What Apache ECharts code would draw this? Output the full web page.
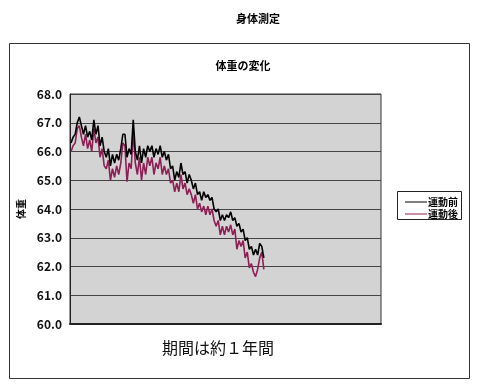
<!DOCTYPE html>
<html>
<head>
<meta charset="utf-8">
<script src="https://cdn.jsdelivr.net/npm/echarts@6/dist/echarts.min.js"></script>
<style>html,body{margin:0;padding:0;background:#fff;}#c{width:477px;height:386px;}</style>
</head>
<body>
<div id="c"></div>
<script>
var yTicks = [60, 61, 62, 63, 64, 65, 66, 67, 68];
var totalSlots = 150;
var before = [66.3,66.5,66.6,67.0,67.2,66.9,66.6,66.9,66.5,66.7,66.4,67.1,66.6,66.9,66.2,66.5,66.0,65.8,66.1,65.5,65.9,65.6,65.9,65.7,66.1,66.6,66.6,65.8,66.1,65.9,67.1,66.0,65.7,66.2,65.6,66.1,65.8,66.2,66.0,66.2,65.8,66.1,65.9,66.2,65.8,66.0,65.7,65.9,65.4,65.5,65.0,65.3,65.1,65.6,65.2,65.3,64.9,65.2,65.0,64.7,64.9,64.5,64.6,64.3,64.6,64.4,64.5,64.3,64.4,64.0,63.9,64.0,63.6,63.8,63.6,63.8,63.7,63.9,63.6,63.7,63.4,63.5,63.2,63.3,62.9,63.0,62.6,62.7,62.4,62.6,62.4,62.8,62.7,62.3];
var after = [66.0,66.2,66.3,66.8,66.9,66.5,66.2,66.6,66.1,66.4,66.0,66.8,66.3,66.5,65.8,66.1,65.5,65.4,65.7,65.0,65.4,65.1,65.5,65.2,65.6,66.3,66.2,64.95,65.6,65.4,66.7,65.6,65.2,65.8,65.0,65.6,65.2,65.8,65.5,65.8,65.2,65.6,65.4,65.8,65.2,65.5,65.2,65.4,64.9,65.0,64.6,64.9,64.6,65.2,64.7,64.9,64.5,64.7,64.5,64.2,64.5,64.0,64.2,63.9,64.1,63.8,64.1,63.8,64.0,63.6,63.4,63.6,63.1,63.4,63.1,63.4,63.2,63.45,63.1,63.3,62.6,62.9,62.7,62.9,62.3,62.5,61.95,62.1,61.8,61.65,61.9,62.3,62.5,61.9];
var seriesNames = ['運動前', '運動後'];

var cats = [];
for (var i = 0; i < totalSlots; i++) cats.push(String(i + 1));

var chart = echarts.init(document.getElementById('c'));
var jp = '"Noto Sans CJK JP", sans-serif';
chart.setOption({
  animation: false,
  backgroundColor: '#ffffff',
  title: [
    {text: '身体測定', left: 253, top: 8, textAlign: 'center',
     textStyle: {fontFamily: jp, fontSize: 11, fontWeight: 'bold', color: '#000'}},
    {text: '体重の変化', left: 238, top: 55, textAlign: 'center',
     textStyle: {fontFamily: jp, fontSize: 11, fontWeight: 'bold', color: '#000'}},
    {text: '期間は約１年間', left: 213, top: 335, textAlign: 'center',
     textStyle: {fontFamily: jp, fontSize: 16, fontWeight: 'normal', color: '#111'}}
  ],
  graphic: [
    {type: 'rect', shape: {x: 9.5, y: 43.5, width: 460, height: 335},
     style: {fill: 'none', stroke: '#333', lineWidth: 1}, z: -1},
    {type: 'rect', shape: {x: 397.5, y: 191.5, width: 64, height: 28},
     style: {fill: '#fff', stroke: '#222', lineWidth: 1}, z: 1}
  ],
  legend: {
    orient: 'vertical', left: 400, top: 192, itemGap: 2,
    itemWidth: 22, itemHeight: 10, icon: 'path://M0,4.5L22,4.5L22,5.5L0,5.5Z',
    textStyle: {fontFamily: jp, fontSize: 10, fontWeight: 'bold', color: '#000', padding: [0,0,0,-4]},
    data: seriesNames, z: 5
  },
  grid: {left: 70, right: 96, top: 94, bottom: 62, show: true,
         backgroundColor: '#d3d3d3', borderColor: '#333', borderWidth: 1},
  xAxis: {
    type: 'category', data: cats, boundaryGap: true,
    axisLine: {lineStyle: {color: '#222', width: 2}},
    axisTick: {show: false}, axisLabel: {show: false}, splitLine: {show: false}
  },
  yAxis: {
    type: 'value', min: yTicks[0], max: yTicks[yTicks.length - 1], interval: 1,
    name: '体重', nameLocation: 'middle', nameRotate: 90, nameGap: 40,
    nameTextStyle: {fontFamily: jp, fontSize: 10, fontWeight: 'bold', color: '#000'},
    axisLine: {show: true, lineStyle: {color: '#222', width: 1}},
    axisTick: {show: false},
    axisLabel: {fontFamily: jp, fontSize: 12, fontWeight: 'bold', color: '#111', margin: 8,
                formatter: function (v) { return v.toFixed(1); }},
    splitLine: {lineStyle: {color: '#444', width: 1}}
  },
  series: [
    {name: seriesNames[0], type: 'line', data: before, symbol: 'none',
     lineStyle: {color: '#000000', width: 1.6}, itemStyle: {color: '#000000'}, z: 3},
    {name: seriesNames[1], type: 'line', data: after, symbol: 'none',
     lineStyle: {color: '#8e1f55', width: 1.6}, itemStyle: {color: '#8e1f55'}, z: 2}
  ]
});
</script>
</body>
</html>
